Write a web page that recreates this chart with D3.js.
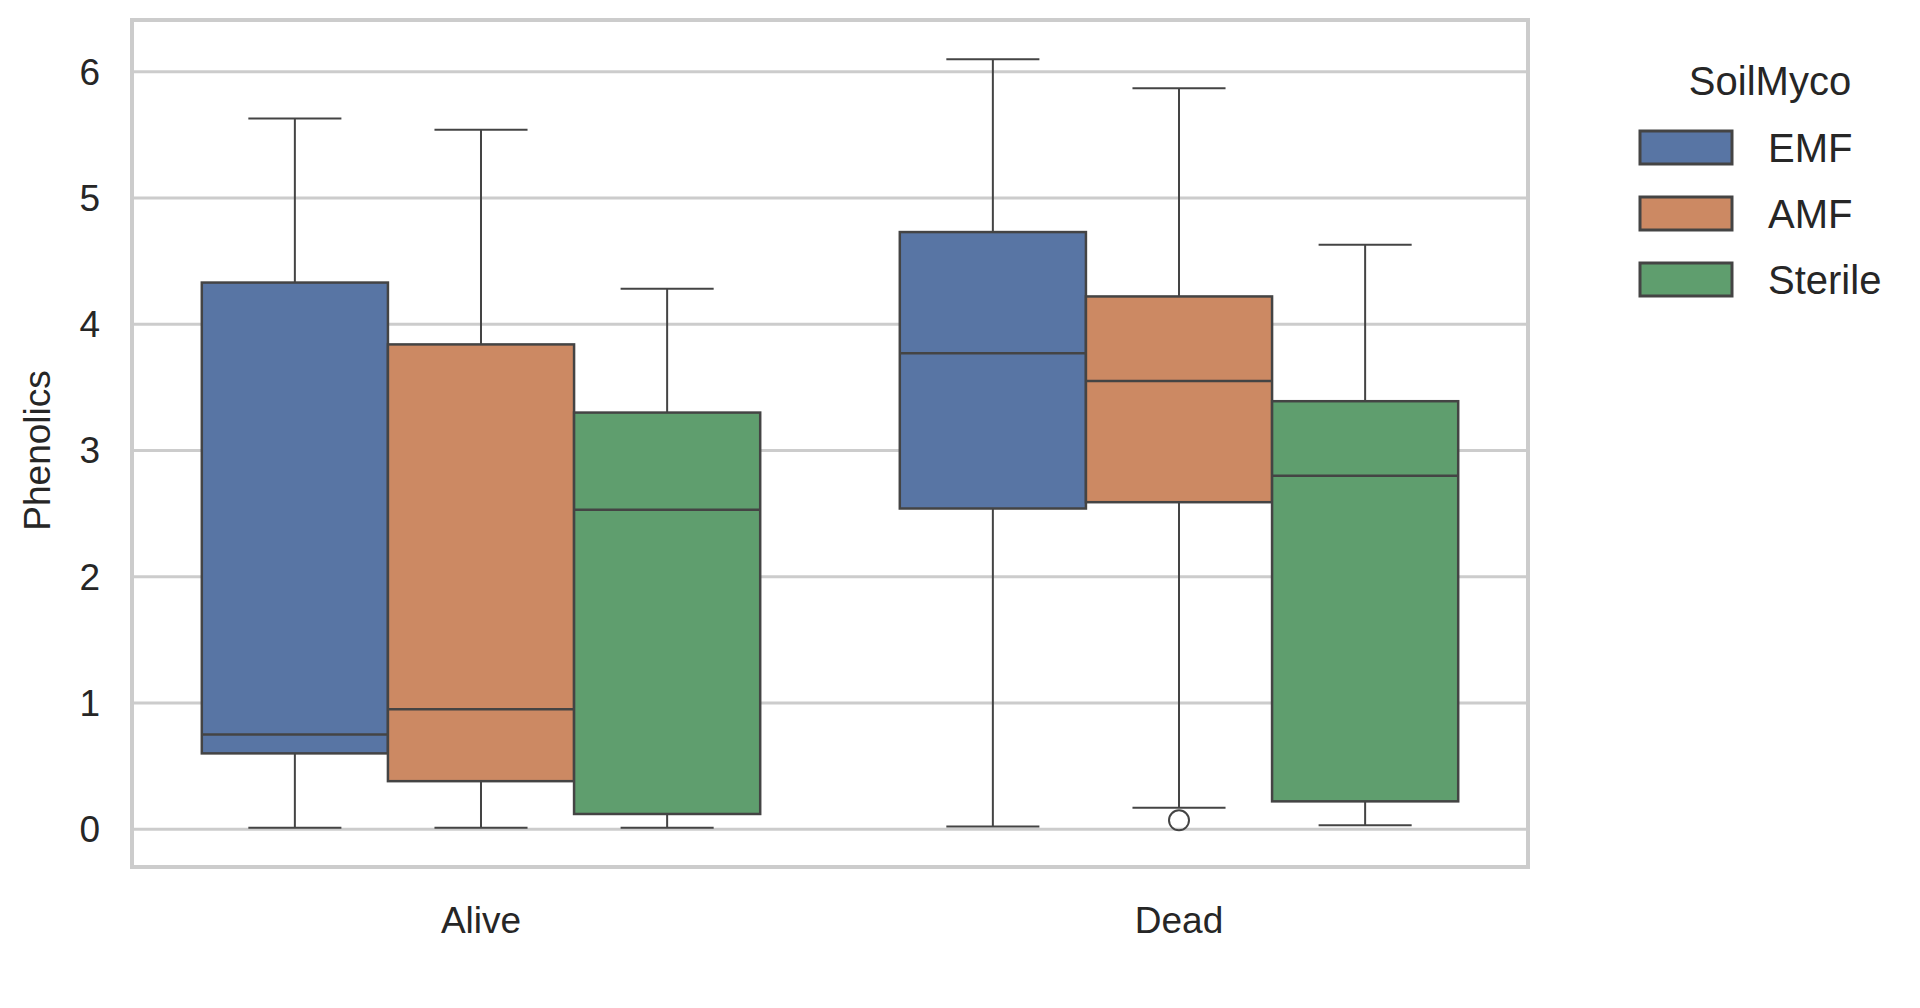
<!DOCTYPE html>
<html><head><meta charset="utf-8">
<script src="https://cdn.jsdelivr.net/npm/d3@7"></script>
<style>body{margin:0;background:#fff}text{font-family:"Liberation Sans",Arial,sans-serif;fill:#262626}</style>
</head><body><svg id="chart" width="1920" height="1008"></svg>
<script>
var groups = ["Alive", "Dead"];
var hues = ["EMF", "AMF", "Sterile"];
var colors = ["#5875a4", "#cc8963", "#5f9e6e"];
// [group, hue, whiskerLow, q1, median, q3, whiskerHigh]
var stats = [
    ["Alive", "EMF", 0.01, 0.60, 0.75, 4.33, 5.63],
    ["Alive", "AMF", 0.01, 0.38, 0.95, 3.84, 5.54],
    ["Alive", "Sterile", 0.01, 0.12, 2.53, 3.30, 4.28],
    ["Dead", "EMF", 0.02, 2.54, 3.77, 4.73, 6.10],
    ["Dead", "AMF", 0.17, 2.59, 3.55, 4.22, 5.87],
    ["Dead", "Sterile", 0.03, 0.22, 2.80, 3.39, 4.63]
];
var outliers = [["Dead", "AMF", 0.07]];
var yTicks = [0, 1, 2, 3, 4, 5, 6];

(function() {
var svg = d3.select("#chart");
var pLeft = 132, pRight = 1528, pTop = 20, pBottom = 867;

var y = d3.scaleLinear().domain([-0.30, 6.41]).range([pBottom, pTop]);
var x = d3.scaleBand().domain(groups).range([pLeft, pRight]).paddingInner(0.2).paddingOuter(0.1);
var xh = d3.scaleBand().domain(hues).range([0, x.bandwidth()]);
var color = d3.scaleOrdinal().domain(hues).range(colors);

// grid
svg.append("g").selectAll("line").data(yTicks).join("line")
    .attr("x1", pLeft).attr("x2", pRight)
    .attr("y1", function(d) { return y(d); }).attr("y2", function(d) { return y(d); })
    .attr("stroke", "#cccccc").attr("stroke-width", 3);

svg.append("g").selectAll("text").data(yTicks).join("text")
    .attr("x", pLeft - 32).attr("y", function(d) { return y(d); })
    .attr("dy", "0.35em").attr("text-anchor", "end").attr("font-size", 37)
    .text(function(d) { return d; });

svg.append("g").selectAll("text").data(groups).join("text")
    .attr("x", function(d) { return x(d) + x.bandwidth() / 2; }).attr("y", 933)
    .attr("text-anchor", "middle").attr("font-size", 37)
    .text(function(d) { return d; });

svg.append("text").attr("transform", "translate(50," + y(3) + ") rotate(-90)")
    .attr("text-anchor", "middle").attr("font-size", 37).text("Phenolics");

var line = "#444444";
var boxes = svg.append("g").selectAll("g").data(stats).join("g")
    .attr("transform", function(d) { return "translate(" + (x(d[0]) + xh(d[1])) + ",0)"; });
var bw = xh.bandwidth();
boxes.append("line").attr("x1", bw / 2).attr("x2", bw / 2)
    .attr("y1", function(d) { return y(d[2]); }).attr("y2", function(d) { return y(d[6]); })
    .attr("stroke", line).attr("stroke-width", 2);
boxes.selectAll(".cap").data(function(d) { return [d[2], d[6]]; }).join("line")
    .attr("x1", bw / 4).attr("x2", bw * 3 / 4)
    .attr("y1", function(v) { return y(v); }).attr("y2", function(v) { return y(v); })
    .attr("stroke", line).attr("stroke-width", 2);
boxes.append("rect").attr("x", 0).attr("width", bw)
    .attr("y", function(d) { return y(d[5]); })
    .attr("height", function(d) { return y(d[3]) - y(d[5]); })
    .attr("fill", function(d) { return color(d[1]); })
    .attr("stroke", line).attr("stroke-width", 2.5);
boxes.append("line").attr("x1", 0).attr("x2", bw)
    .attr("y1", function(d) { return y(d[4]); }).attr("y2", function(d) { return y(d[4]); })
    .attr("stroke", line).attr("stroke-width", 2.5);

svg.append("g").selectAll("circle").data(outliers).join("circle")
    .attr("cx", function(d) { return x(d[0]) + xh(d[1]) + bw / 2; })
    .attr("cy", function(d) { return y(d[2]); })
    .attr("r", 10).attr("fill", "none").attr("stroke", line).attr("stroke-width", 2);

// frame
svg.append("rect").attr("x", pLeft).attr("y", pTop).attr("width", pRight - pLeft).attr("height", pBottom - pTop)
    .attr("fill", "none").attr("stroke", "#cccccc").attr("stroke-width", 4);

// legend
var lg = svg.append("g").attr("transform", "translate(1640,0)");
lg.append("text").attr("x", 130).attr("y", 95).attr("text-anchor", "middle").attr("font-size", 40).text("SoilMyco");
var items = lg.selectAll("g").data(hues).join("g")
    .attr("transform", function(d, i) { return "translate(0," + (131 + i * 66) + ")"; });
items.append("rect").attr("width", 92).attr("height", 33)
    .attr("fill", function(d) { return color(d); }).attr("stroke", line).attr("stroke-width", 3);
items.append("text").attr("x", 128).attr("y", 17).attr("dy", "0.35em").attr("font-size", 40)
    .text(function(d) { return d; });
})();
</script></body></html>
